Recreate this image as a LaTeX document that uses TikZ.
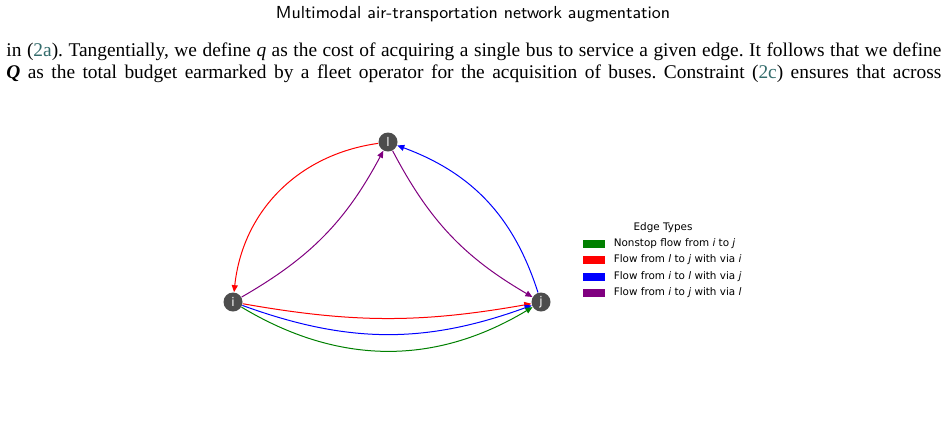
\documentclass[tikz,border=0pt]{standalone}
\usepackage{fontspec}
\setmainfont{Liberation Serif}
\newfontfamily\dejavu{DejaVu Sans}
\usetikzlibrary{arrows.meta,positioning}
\definecolor{linkteal}{rgb}{0.2,0.42,0.42}
\definecolor{nodegray}{RGB}{77,77,77}
\definecolor{mplgreen}{RGB}{0,128,0}
\definecolor{mplpurple}{RGB}{128,0,128}
\frenchspacing

\begin{document}
\begin{tikzpicture}[x=0.5pt,y=-0.5pt,
  vertex/.style={circle,fill=nodegray,minimum size=9.5pt,inner sep=0pt,text=white,font=\dejavu\fontsize{6}{7}\selectfont},
  flow/.style={line width=0.5pt,-{Triangle[length=3.5pt,width=3pt]}},
  swatch/.style={minimum width=11pt,minimum height=4pt,inner sep=0pt},
  legtext/.style={font=\dejavu\fontsize{5.2}{6}\selectfont,anchor=west,inner sep=0pt},
  bodyline/.style={anchor=base west,inner sep=0pt,font=\fontsize{9.7}{11}\selectfont}]
\useasboundingbox (0,0) rectangle (946,430);

\node[font=\sffamily\fontsize{8.7}{10}\selectfont] (head) at (473,14) {Multimodal air-transportation network augmentation};
\node[bodyline] (line1) at (6,56) {\makebox[467.5pt][s]{in (\textcolor{linkteal}{2a}). Tangentially, we define \textit{q} as the cost of acquiring a single bus to service a given edge. It follows that we define}};
\node[bodyline] (line2) at (6,78) {\makebox[467.5pt][s]{\textbf{\textit{Q}} as the total budget earmarked by a fleet operator for the acquisition of buses. Constraint (\textcolor{linkteal}{2c}) ensures that across}};

\node[vertex] (l) at (388,142) {l};
\node[vertex] (i) at (233,302) {i};
\node[vertex] (j) at (541,302) {j};

\draw[flow,red] (l) to[bend right=38] (i);
\draw[flow,mplpurple] (i) to[bend right=16] (l);
\draw[flow,mplpurple] (l) to[bend right=16] (j);
\draw[flow,blue] (j) to[bend right=26] (l);
\draw[flow,red] (i) to[bend right=10] (j);
\draw[flow,blue] (i) to[bend right=20] (j);
\draw[flow,mplgreen] (i) to[bend right=31] (j);

\node[legtext,anchor=center] (legtitle) at (663,228) {Edge Types};
\node[swatch,fill=mplgreen] (sw1) at (594,244) {};
\node[swatch,fill=red] (sw2) at (594,260) {};
\node[swatch,fill=blue] (sw3) at (594,277) {};
\node[swatch,fill=mplpurple] (sw4) at (594,293) {};
\node[legtext,right=4pt of sw1] (lt1) {Nonstop flow from \textit{i} to \textit{j}};
\node[legtext,right=4pt of sw2] (lt2) {Flow from \textit{l} to \textit{j} with via \textit{i}};
\node[legtext,right=4pt of sw3] (lt3) {Flow from \textit{i} to \textit{l} with via \textit{j}};
\node[legtext,right=4pt of sw4] (lt4) {Flow from \textit{i} to \textit{j} with via \textit{l}};
\end{tikzpicture}
\end{document}
